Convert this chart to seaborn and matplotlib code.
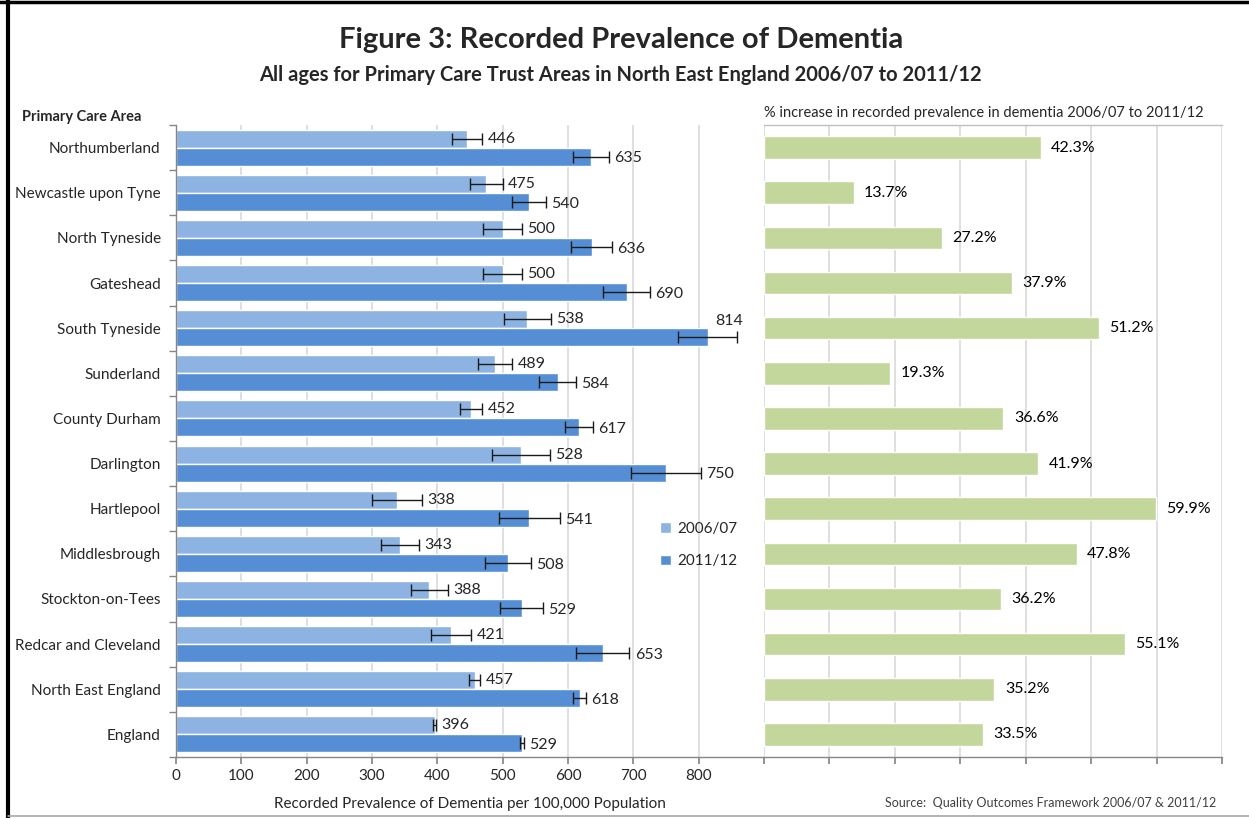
import numpy as np
import pandas as pd
import matplotlib
matplotlib.use('Agg')
import matplotlib.pyplot as plt
from matplotlib.lines import Line2D
from matplotlib.ticker import MultipleLocator, FixedLocator
import seaborn as sns

areas = ['Northumberland', 'Newcastle upon Tyne', 'North Tyneside', 'Gateshead',
         'South Tyneside', 'Sunderland', 'County Durham', 'Darlington', 'Hartlepool',
         'Middlesbrough', 'Stockton-on-Tees', 'Redcar and Cleveland',
         'North East England', 'England']
prev_0607 = [446, 475, 500, 500, 538, 489, 452, 528, 338, 343, 388, 421, 457, 396]
prev_1112 = [635, 540, 636, 690, 814, 584, 617, 750, 541, 508, 529, 653, 618, 529]
err_0607 = [23, 25, 30, 30, 36, 26, 17, 44, 38, 29, 28, 31, 9, 2]
err_1112 = [28, 26, 31, 36, 45, 28, 21, 53, 47, 35, 33, 41, 10, 3]
pct_increase = [42.3, 13.7, 27.2, 37.9, 51.2, 19.3, 36.6, 41.9, 59.9, 47.8, 36.2, 55.1, 35.2, 33.5]
years = ['2006/07', '2011/12']

c_light = '#8DB3E2'
c_dark = '#558ED5'
c_green = '#C3D69B'
grid_c = '#D9D9D9'
spine_c = '#868686'

sns.set_theme(style='white')
plt.rcParams['font.family'] = ['Lato', 'DejaVu Sans']

df = pd.DataFrame({
    'area': areas * 2,
    'year': [years[0]] * len(areas) + [years[1]] * len(areas),
    'value': prev_0607 + prev_1112,
})
pct_df = pd.DataFrame({'area': areas, 'pct': pct_increase})

fig = plt.figure(figsize=(12.49, 8.18), dpi=100)
ax = fig.add_axes([176 / 1249, 1 - 757 / 818, 588 / 1249, 632 / 818])
ax2 = fig.add_axes([764 / 1249, 1 - 757 / 818, 458 / 1249, 632 / 818])

# left panel: prevalence
sns.barplot(data=df, y='area', x='value', hue='year', orient='h',
            palette=[c_light, c_dark], width=0.8, errorbar=None,
            saturation=1, ax=ax, zorder=2)
ax.set_xlim(0, 900)
ax.set_ylim(13.5, -0.5)
ax.xaxis.set_major_locator(FixedLocator(range(0, 900, 100)))
ax.xaxis.grid(True, color=grid_c, lw=1.2, zorder=0)
ax.set_axisbelow(True)
ax.set_xlabel('Recorded Prevalence of Dementia per 100,000 Population', fontsize=11, labelpad=10)
ax.set_ylabel('')
ax.tick_params(axis='x', labelsize=11, length=5, color=spine_c, direction='out', bottom=True)
ax.tick_params(axis='y', labelsize=11, length=0, pad=11)
ax.yaxis.set_minor_locator(FixedLocator(np.arange(-0.5, 14, 1)))
ax.tick_params(axis='y', which='minor', length=5, color=spine_c, left=True)
for s in ['top', 'right']:
    ax.spines[s].set_visible(False)
for s in ['left', 'bottom']:
    ax.spines[s].set_color(spine_c)
    ax.spines[s].set_linewidth(1)

# error bars + labels
for k, (cont, vals, errs) in enumerate(zip(ax.containers, [prev_0607, prev_1112],
                                          [err_0607, err_1112])):
    ys = [p.get_y() + p.get_height() / 2 for p in cont.patches]
    ax.errorbar(vals, ys, xerr=errs, fmt='none', ecolor='#1a1a1a', elinewidth=1,
                capsize=4, capthick=1, zorder=3)
    for v, e, y in zip(vals, errs, ys):
        if v + e > 840:
            # no room on the right: put the label above the cap
            ax.text(v + e - 12, y - 0.2, str(v), va='bottom', ha='center', fontsize=11.5)
        else:
            ax.text(v + e + 8, y + 0.04 * k, str(v), va='center', ha='left', fontsize=11.5)

leg = ax.legend(loc='center left', bbox_to_anchor=(0.80, 0.335), frameon=False,
                fontsize=11, handlelength=0.7, handleheight=0.7, handletextpad=0.4,
                labelspacing=1.2)

# right panel: % increase
sns.barplot(data=pct_df, y='area', x='pct', orient='h', color=c_green, width=0.5,
            saturation=1, errorbar=None, ax=ax2, zorder=2)
ax2.set_xlim(0, 70)
ax2.set_ylim(13.5, -0.5)
ax2.xaxis.set_major_locator(MultipleLocator(10))
ax2.xaxis.grid(True, color=grid_c, lw=1.2, zorder=0)
ax2.set_axisbelow(True)
ax2.set_xlabel('')
ax2.set_ylabel('')
ax2.set_yticks([])
ax2.tick_params(axis='x', labelbottom=False, length=5, color=spine_c, direction='out',
                bottom=True)
for s in ['left', 'right']:
    ax2.spines[s].set_visible(False)
for s in ['top', 'bottom']:
    ax2.spines[s].set_color(spine_c)
    ax2.spines[s].set_linewidth(1)
ax2.spines['top'].set_color('#BFBFBF')
for p, v in zip(ax2.patches, pct_increase):
    ax2.text(v + 1.6, p.get_y() + p.get_height() / 2, f'{v:.1f}%', va='center', ha='left',
             fontsize=11.5, color='black')
ax2.text(0, 1.008, '% increase in recorded prevalence in dementia 2006/07 to 2011/12',
         transform=ax2.transAxes, fontsize=10.5, ha='left', va='bottom')

# titles and annotations
fig.text(0.497, 1 - 40 / 818, 'Figure 3: Recorded Prevalence of Dementia', ha='center',
         va='center', fontsize=21, fontweight='bold')
fig.text(0.497, 1 - 75 / 818,
         'All ages for Primary Care Trust Areas in North East England 2006/07 to 2011/12',
         ha='center', va='center', fontsize=14.5, fontweight='bold')
fig.text(22 / 1249, 1 - 117 / 818, 'Primary Care Area', ha='left', va='center',
         fontsize=10.5, fontweight='bold')
fig.text(1216 / 1249, 1 - 803 / 818, 'Source:  Quality Outcomes Framework 2006/07 & 2011/12',
         ha='right', va='center', fontsize=9, color='#404040')

# chart frame
fig.add_artist(Line2D([8 / 1249, 8 / 1249], [0, 1], transform=fig.transFigure, color='black', lw=3))
fig.add_artist(Line2D([0, 1], [1 - 2 / 818, 1 - 2 / 818], transform=fig.transFigure, color='black', lw=2.5))
fig.add_artist(Line2D([8 / 1249, 1], [1 - 816 / 818, 1 - 816 / 818], transform=fig.transFigure, color='#A6A6A6', lw=1.2))

fig.savefig('out.png', dpi=100)
